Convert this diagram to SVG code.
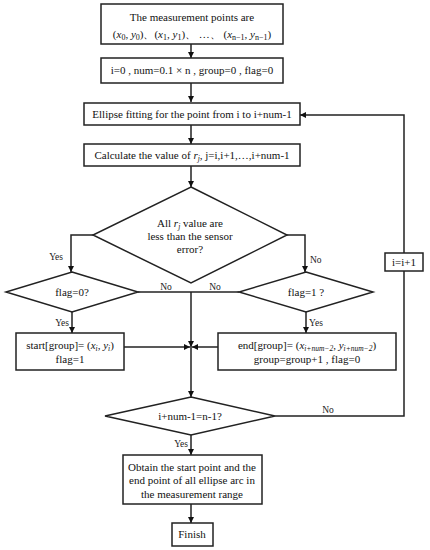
<svg xmlns="http://www.w3.org/2000/svg" width="430" height="550" viewBox="0 0 430 550">
<defs>
<marker id="ah" viewBox="0 0 10 10" refX="10" refY="5" markerWidth="6" markerHeight="6" markerUnits="userSpaceOnUse" orient="auto">
<path d="M0,0 L10,5 L0,10 z" fill="#111"/>
</marker>
<style>
.box{fill:#fff;stroke:#222;stroke-width:1.5}
.ln{fill:none;stroke:#222;stroke-width:1.5}
text{font-family:'Liberation Serif','Times New Roman','DejaVu Serif',serif}
.t{font-size:11px;fill:#111;text-anchor:middle}
.lb{font-size:9.5px;fill:#222}
.m{font-style:italic}
</style>
</defs>
<rect width="430" height="550" fill="#fff"/>
<g id="connectors">
<line class="ln" x1="191" y1="44" x2="191" y2="58" marker-end="url(#ah)"/>
<line class="ln" x1="191" y1="83" x2="191" y2="102" marker-end="url(#ah)"/>
<line class="ln" x1="191" y1="125" x2="191" y2="144" marker-end="url(#ah)"/>
<line class="ln" x1="191" y1="166" x2="191" y2="187" marker-end="url(#ah)"/>
<polyline class="ln" points="93,235 71,235 71,272" marker-end="url(#ah)"/>
<polyline class="ln" points="287,235 305,235 305,272" marker-end="url(#ah)"/>
<line class="ln" x1="138" y1="292" x2="239" y2="292"/>
<line class="ln" x1="191" y1="292" x2="191" y2="347" marker-end="url(#ah)"/>
<line class="ln" x1="124" y1="347" x2="190" y2="347" marker-end="url(#ah)"/>
<line class="ln" x1="218" y1="347" x2="192" y2="347" marker-end="url(#ah)"/>
<line class="ln" x1="72" y1="312" x2="72" y2="333" marker-end="url(#ah)"/>
<line class="ln" x1="306" y1="312" x2="306" y2="333" marker-end="url(#ah)"/>
<line class="ln" x1="191" y1="347" x2="191" y2="397" marker-end="url(#ah)"/>
<line class="ln" x1="191" y1="435" x2="191" y2="455" marker-end="url(#ah)"/>
<line class="ln" x1="191" y1="504" x2="191" y2="523" marker-end="url(#ah)"/>
<polyline class="ln" points="275,416 404,416 404,271"/>
<polyline class="ln" points="404,253 404,115 300,115" marker-end="url(#ah)"/>
<text class="lb" x="63" y="260" text-anchor="end">Yes</text>
<text class="lb" x="310" y="263">No</text>
<text class="lb" x="166" y="290" text-anchor="middle">No</text>
<text class="lb" x="215" y="290" text-anchor="middle">No</text>
<text class="lb" x="69" y="326" text-anchor="end">Yes</text>
<text class="lb" x="309" y="326">Yes</text>
<text class="lb" x="188" y="447" text-anchor="end">Yes</text>
<text class="lb" x="328" y="413" text-anchor="middle">No</text>
</g>
<g id="n1">
<rect class="box" x="101" y="4" width="182" height="40"/>
<text class="t" x="192" y="21">The measurement points are</text>
<text class="t" x="192" y="38" font-size="12">(<tspan class="m">x</tspan><tspan font-size="8" dy="2">0</tspan><tspan dy="-2">, </tspan><tspan class="m">y</tspan><tspan font-size="8" dy="2">0</tspan><tspan dy="-2">)、(</tspan><tspan class="m">x</tspan><tspan font-size="8" dy="2">1</tspan><tspan dy="-2">, </tspan><tspan class="m">y</tspan><tspan font-size="8" dy="2">1</tspan><tspan dy="-2">)、 …、 (</tspan><tspan class="m">x</tspan><tspan font-size="8" dy="2">n−1</tspan><tspan dy="-2">, </tspan><tspan class="m">y</tspan><tspan font-size="8" dy="2">n−1</tspan><tspan dy="-2">)</tspan></text>
</g>
<g id="n2">
<rect class="box" x="101" y="58" width="182" height="25"/>
<text class="t" x="192" y="74">i=0 , num=0.1 × n  , group=0 , flag=0</text>
</g>
<g id="n3">
<rect class="box" x="84" y="103" width="216" height="22"/>
<text class="t" x="192" y="118">Ellipse fitting for the point from i to i+num-1</text>
</g>
<g id="n4">
<rect class="box" x="84" y="144" width="216" height="22"/>
<text class="t" x="192" y="159">Calculate the value of  <tspan class="m">r</tspan><tspan class="m" font-size="7.5" dy="2">j</tspan><tspan dy="-2">, j=i,i+1,…,i+num-1</tspan></text>
</g>
<g id="n5">
<polygon class="box" points="191,187 287,235 191,283 93,235"/>
<text class="t" x="190" y="227">All  <tspan class="m">r</tspan><tspan class="m" font-size="7.5" dy="2">j</tspan><tspan dy="-2">  value are</tspan></text>
<text class="t" x="190" y="240">less than the sensor</text>
<text class="t" x="190" y="253">error?</text>
</g>
<g id="n6">
<polygon class="box" points="72,272 138,292 72,312 6,292"/>
<text class="t" x="72" y="296">flag=0?</text>
</g>
<g id="n7">
<polygon class="box" points="306,272 373,292 306,312 239,292"/>
<text class="t" x="306" y="296">flag=1 ?</text>
</g>
<g id="n8">
<rect class="box" x="16" y="333" width="108" height="37"/>
<text class="t" x="70" y="349">start[group]= (<tspan class="m">x</tspan><tspan class="m" font-size="7.5" dy="2">i</tspan><tspan dy="-2">, </tspan><tspan class="m">y</tspan><tspan class="m" font-size="7.5" dy="2">i</tspan><tspan dy="-2">)</tspan></text>
<text class="t" x="70" y="363">flag=1</text>
</g>
<g id="n9">
<rect class="box" x="218" y="333" width="178" height="37"/>
<text class="t" x="307" y="349">end[group]= (<tspan class="m">x</tspan><tspan class="m" font-size="7.5" dy="2">i+num−2</tspan><tspan dy="-2">, </tspan><tspan class="m">y</tspan><tspan class="m" font-size="7.5" dy="2">i+num−2</tspan><tspan dy="-2">)</tspan></text>
<text class="t" x="307" y="363">group=group+1 , flag=0</text>
</g>
<g id="n10">
<rect class="box" x="385" y="253" width="38" height="18"/>
<text class="t" x="404" y="266">i=i+1</text>
</g>
<g id="n11">
<polygon class="box" points="191,397 275,416 191,435 105,416"/>
<text class="t" x="190" y="420">i+num-1=n-1?</text>
</g>
<g id="n12">
<rect class="box" x="123" y="455" width="139" height="49"/>
<text class="t" x="192" y="471">Obtain the start point and the</text>
<text class="t" x="192" y="484">end point of all ellipse arc in</text>
<text class="t" x="192" y="498">the measurement range</text>
</g>
<g id="n13">
<rect class="box" x="172" y="523" width="41" height="23"/>
<text class="t" x="192" y="538">Finish</text>
</g>
</svg>
